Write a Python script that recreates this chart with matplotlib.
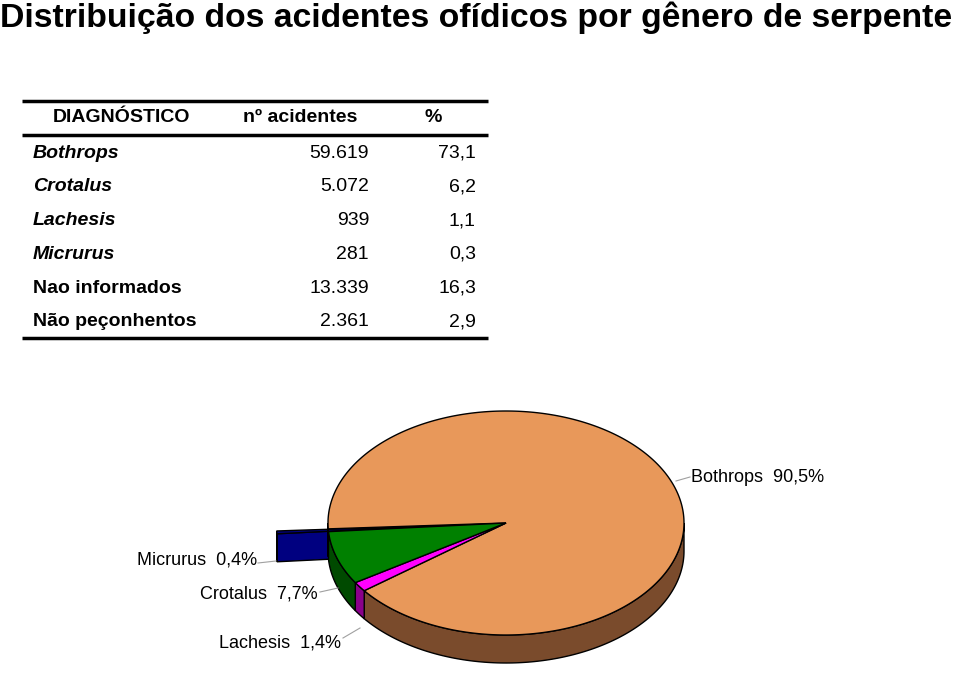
import numpy as np
import matplotlib
matplotlib.use("Agg")
from matplotlib import pyplot as plt
from matplotlib.patches import Polygon

plt.rcParams['font.family'] = ['Liberation Sans', 'DejaVu Sans']

title = "Distribuição dos acidentes ofídicos por gênero de serpente"

# table data
table_header = ["DIAGNÓSTICO", "nº acidentes", "%"]
table_labels = ["Bothrops", "Crotalus", "Lachesis", "Micrurus", "Nao informados", "Não peçonhentos"]
table_italic = [True, True, True, True, False, False]
table_counts = [59619, 5072, 939, 281, 13339, 2361]
table_pct = [73.1, 6.2, 1.1, 0.3, 16.3, 2.9]

# pie data (counter-clockwise order starting at the left)
pie_labels = ["Micrurus", "Crotalus", "Lachesis", "Bothrops"]
pie_pct = [0.4, 7.7, 1.4, 90.5]
top_colors = ["#000080", "#008000", "#FF00FF", "#E8985A"]
side_colors = ["#00006A", "#004A00", "#8A008A", "#7A4B2C"]
explode = [0.29, 0, 0, 0]

fig = plt.figure(figsize=(9.6, 6.86), dpi=100)
ax = fig.add_axes([0, 0, 1, 1])
ax.set_xlim(0, 960)
ax.set_ylim(686, 0)
ax.axis("off")

ax.text(0, 27, title, fontsize=24.3, fontweight="bold", ha="left", va="baseline")

# ---- table ----
x_lab, x_cnt, x_pct = 33, 369, 476
row_y = 153
dy = 33.8
ax.plot([22, 488], [101, 101], color="black", lw=2.5, solid_capstyle="butt")
ax.plot([22, 488], [135, 135], color="black", lw=2.5, solid_capstyle="butt")
ax.plot([22, 488], [338, 338], color="black", lw=2.5, solid_capstyle="butt")
ax.text(122, 118, table_header[0], fontsize=14, fontweight="bold", ha="center", va="center")
ax.text(300, 118, table_header[1], fontsize=14, fontweight="bold", ha="center", va="center")
ax.text(433, 118, table_header[2], fontsize=14, fontweight="bold", ha="center", va="center")
for i, lab in enumerate(table_labels):
    y = row_y + i * dy
    ax.text(x_lab, y, lab, fontsize=14, fontweight="bold",
            fontstyle="italic" if table_italic[i] else "normal", ha="left", va="center")
    ax.text(x_cnt, y, f"{table_counts[i]:,}".replace(",", "."), fontsize=14, ha="right", va="center")
    ax.text(x_pct, y, f"{table_pct[i]:.1f}".replace(".", ","), fontsize=14, ha="right", va="center")

# ---- 3D pie ----
cx, cy, rx, ry, depth = 506, 523, 178, 112, 28
start = 183
bounds = start + np.concatenate([[0], np.cumsum(pie_pct)]) * 3.6


def pt(t, ox=0, oy=0, dz=0):
    r = np.radians(t)
    return cx + ox + rx * np.cos(r), cy + oy - ry * np.sin(r) + dz


def arc(a, b, ox=0, oy=0, dz=0, n=None):
    if n is None:
        n = max(int(abs(b - a)) + 2, 3)
    ts = np.linspace(a, b, n)
    return [pt(t, ox, oy, dz) for t in ts]


def offsets(i):
    mid = np.radians((bounds[i] + bounds[i + 1]) / 2)
    return explode[i] * rx * np.cos(mid), -explode[i] * ry * np.sin(mid)


def side_wall(i):
    a, b = bounds[i], bounds[i + 1]
    ox, oy = offsets(i)
    for lo, hi in [(180, 360), (540, 720)]:
        s, e = max(a, lo), min(b, hi)
        if e > s:
            up = arc(s, e, ox, oy)
            down = arc(e, s, ox, oy, depth)
            ax.add_patch(Polygon(up + down, closed=True, fc=side_colors[i], ec="black", lw=1))


def end_face(i):
    # radial face at the end boundary of the wedge
    ox, oy = offsets(i)
    c = (cx + ox, cy + oy)
    r = pt(bounds[i + 1], ox, oy)
    poly = [c, r, (r[0], r[1] + depth), (c[0], c[1] + depth)]
    ax.add_patch(Polygon(poly, closed=True, fc=side_colors[i] if i else top_colors[i], ec="black", lw=1))


def top_face(i):
    ox, oy = offsets(i)
    poly = [(cx + ox, cy + oy)] + arc(bounds[i], bounds[i + 1], ox, oy)
    ax.add_patch(Polygon(poly, closed=True, fc=top_colors[i], ec="black", lw=1))


# back to front
end_face(3)
end_face(0)
side_wall(0)
top_face(0)
for i in [3, 2, 1]:
    side_wall(i)
for i in [3, 2, 1]:
    top_face(i)

# labels with leader lines
lab_pos = [(197, 560), (259, 594), (280, 643), (758, 477)]
lead = [[(258, 563), (276, 561)], [(320, 592), (338, 588)],
        [(343, 638), (360, 628)], [(676, 481), (690, 477)]]
for i, lab in enumerate(pie_labels):
    txt = f"{lab}  {pie_pct[i]:.1f}%".replace(".", ",")
    ax.text(lab_pos[i][0], lab_pos[i][1], txt, fontsize=13, ha="center", va="center")
    (x0, y0), (x1, y1) = lead[i]
    ax.plot([x0, x1], [y0, y1], color="#A0A0A0", lw=0.8)

fig.savefig("out.png", dpi=100)
